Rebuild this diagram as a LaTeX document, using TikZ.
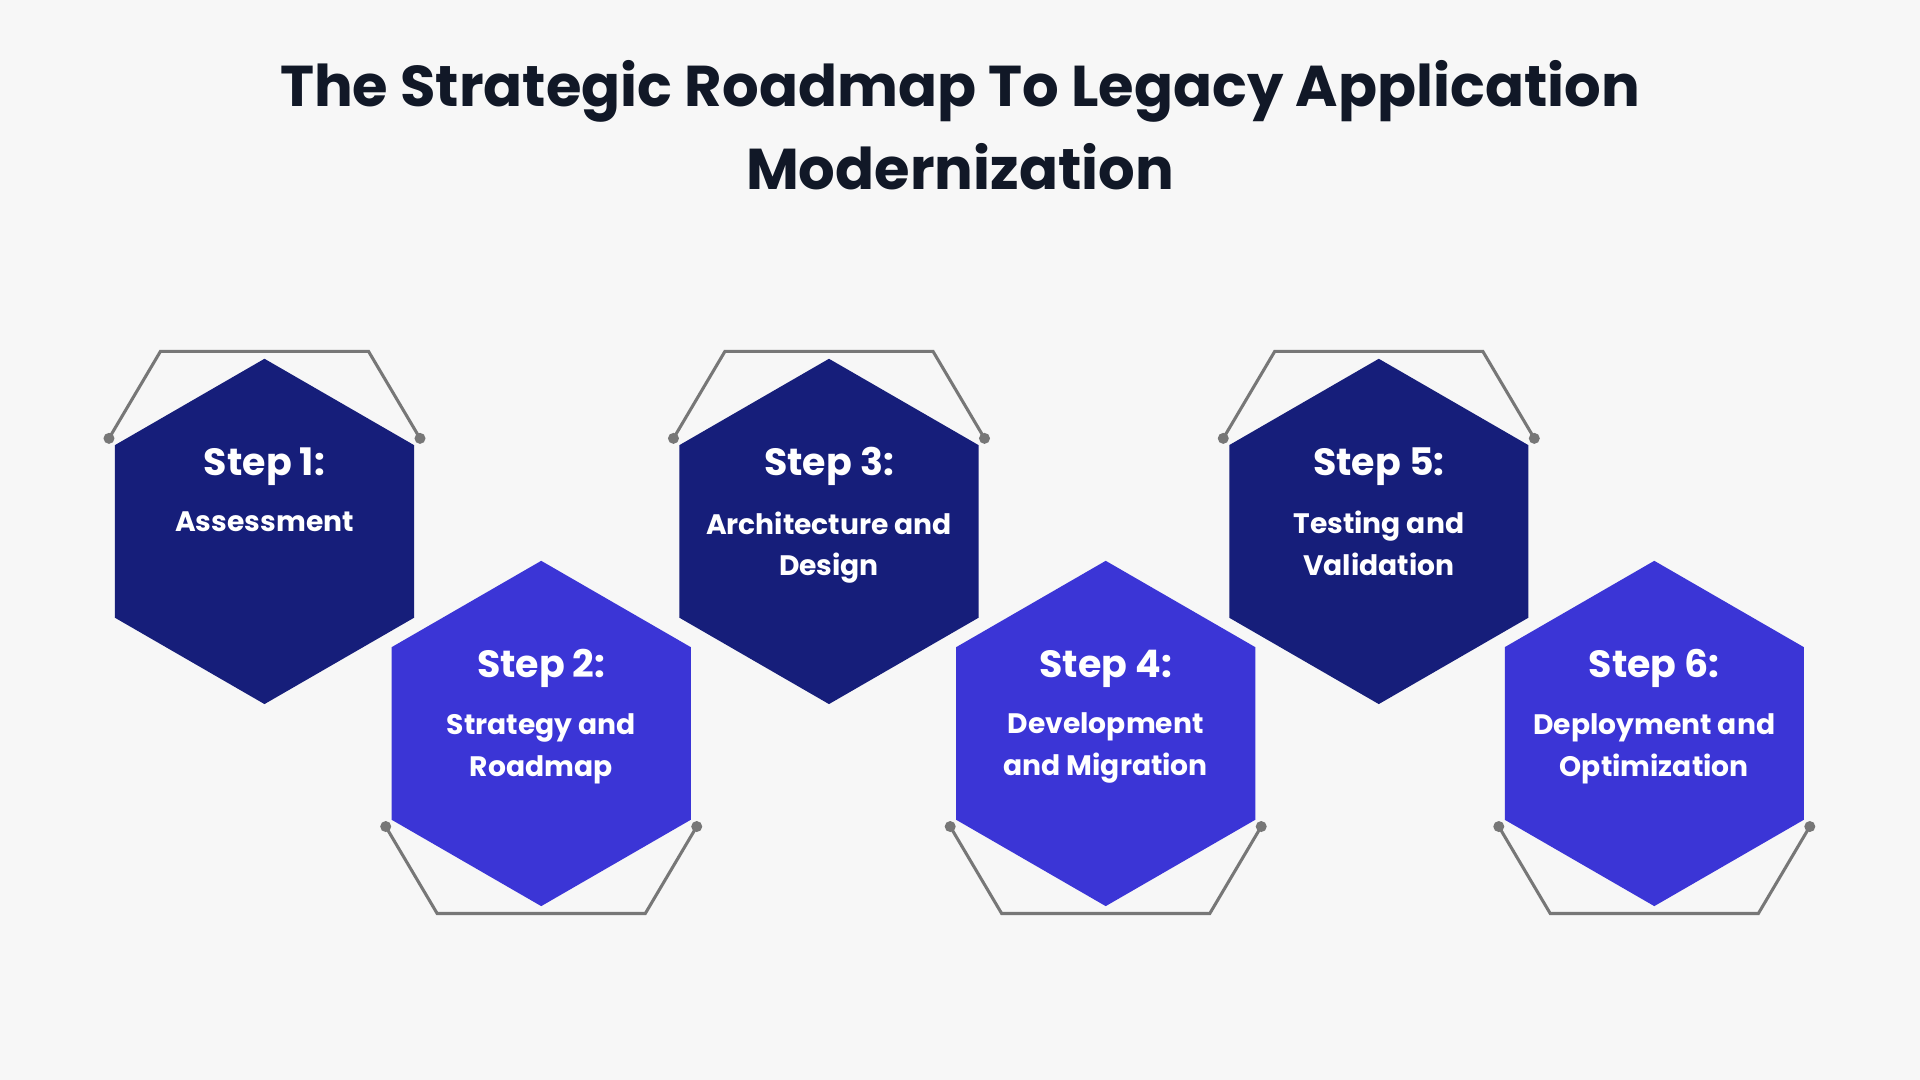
\documentclass[tikz,border=0pt]{standalone}
\usepackage{fontspec}
\setmainfont{Poppins}
\usetikzlibrary{shapes.geometric,positioning}
\definecolor{navy}{HTML}{161E7A}
\definecolor{violet}{HTML}{3B35D6}
\definecolor{ink}{HTML}{111827}
\definecolor{wire}{HTML}{777777}
\tikzset{
	hexa/.style  = {regular polygon, regular polygon sides=6, shape border rotate=30,
		minimum size=282pt, inner sep=0pt, draw=none},
	steplabel/.style = {text=white, font=\fontsize{31}{36}\selectfont\bfseries},
	body/.style  = {text=white, align=center, font=\fontsize{23}{34}\selectfont\bfseries},
	wire/.style  = {draw=wire, line width=2.5pt},
	dot/.style   = {circle, fill=wire, inner sep=0pt, minimum size=9pt}
}

\begin{document}
\begin{tikzpicture}[x=1pt, y=-1pt]
	\fill[black!3] (0,0) rectangle (1568,882);
	\useasboundingbox (0,0) rectangle (1568,882);

	\node[text=ink, align=center, font=\fontsize{47}{68}\selectfont\bfseries] (title) at (784,102)
		{The Strategic Roadmap To Legacy Application\\Modernization};

	% hexagons: name/x/y/colour/side of bracket/number/text
	\foreach \n/\cx/\cy/\col/\s/\k/\txt in {
		h1/216/434/navy/-1/1/{Assessment},
		h2/442/599/violet/1/2/{Strategy and\\Roadmap},
		h3/677/434/navy/-1/3/{Architecture and\\Design},
		h4/903/599/violet/1/4/{Development\\and Migration},
		h5/1126/434/navy/-1/5/{Testing and\\Validation},
		h6/1351/599/violet/1/6/{Deployment and\\Optimization}}{
		\node[hexa, fill=\col] (\n) at (\cx,\cy) {};
		\node[steplabel] (\n-step) at ([yshift=53pt]\n.center) {Step \k:};
		\node[body, below=14pt of \n-step] (\n-body) {\txt};
		\coordinate (\n-a) at ([shift={(-127,\s*76)}]\n.center);
		\coordinate (\n-b) at ([shift={(-85,\s*147)}]\n.center);
		\coordinate (\n-c) at ([shift={(85,\s*147)}]\n.center);
		\coordinate (\n-d) at ([shift={(127,\s*76)}]\n.center);
		\draw[wire] (\n-a) -- (\n-b) -- (\n-c) -- (\n-d);
		\node[dot] at (\n-a) {};
		\node[dot] at (\n-d) {};
	}
\end{tikzpicture}
\end{document}
